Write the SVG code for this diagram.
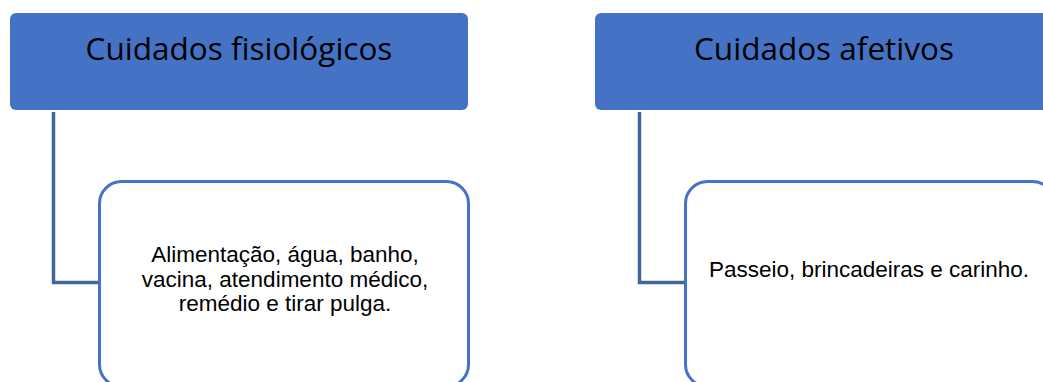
<svg xmlns="http://www.w3.org/2000/svg" width="1043" height="382" viewBox="0 0 1043 382">
<style>
.hdr{fill:#4472C4;}
.ttl{font-family:"Open Sans","Noto Sans",sans-serif;font-size:31.5px;fill:#000;text-anchor:middle;}
.box{fill:#fff;stroke:#4472C4;stroke-width:3;}
.txt{font-family:"Liberation Sans",Arial,sans-serif;font-size:22.5px;fill:#000;text-anchor:middle;}
.con{fill:none;stroke:#41679A;stroke-width:3.5;}
</style>
<rect width="1043" height="382" fill="#fff"/>
<g id="connectors">
<path class="con" d="M53.5,112 V282.5 H100"/>
<path class="con" d="M639.5,112 V282.5 H686"/>
</g>
<g id="node-fisiologicos">
<rect class="hdr" x="10" y="13" width="458" height="97" rx="6"/>
<text class="ttl" x="239" y="60">Cuidados fisiológicos</text>
</g>
<g id="node-afetivos">
<rect class="hdr" x="595" y="13" width="458" height="97" rx="6"/>
<text class="ttl" x="824" y="60">Cuidados afetivos</text>
</g>
<g id="node-fisiologicos-detalhe">
<rect class="box" x="99.5" y="181.5" width="369" height="205" rx="22"/>
<text class="txt" x="285" y="262">Alimentação, água, banho,</text>
<text class="txt" x="285" y="287">vacina, atendimento médico,</text>
<text class="txt" x="285" y="311">remédio e tirar pulga.</text>
</g>
<g id="node-afetivos-detalhe">
<rect class="box" x="685.5" y="181.5" width="369" height="205" rx="22"/>
<text class="txt" x="869" y="277">Passeio, brincadeiras e carinho.</text>
</g>
</svg>
